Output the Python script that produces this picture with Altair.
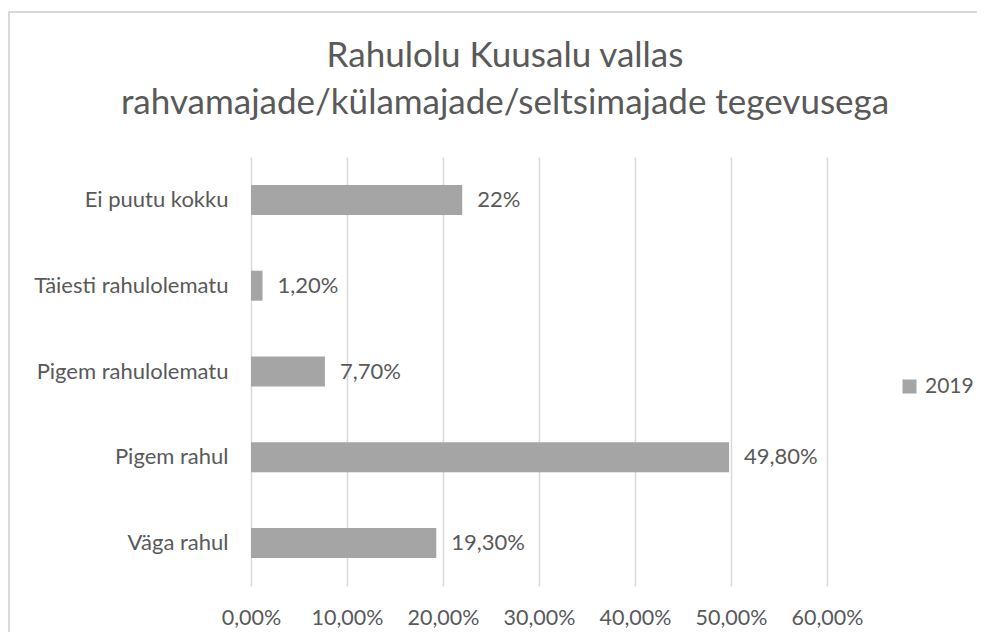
import altair as alt
import pandas as pd

categories = ["Ei puutu kokku", "Täiesti rahulolematu", "Pigem rahulolematu", "Pigem rahul", "Väga rahul"]
values = [0.22, 0.012, 0.077, 0.498, 0.193]
value_labels = ["22%", "1,20%", "7,70%", "49,80%", "19,30%"]
series = ["2019"] * 5
x_ticks = [0, 0.1, 0.2, 0.3, 0.4, 0.5, 0.6]
title_lines = ["Rahulolu Kuusalu vallas", "rahvamajade/külamajade/seltsimajade tegevusega"]

df = pd.DataFrame({"cat": categories, "val": values, "lab": value_labels, "series": series})

FONT = "Lato"
TXT = "#595959"
GRID = "#d9d9d9"

base = alt.Chart(df)
one = pd.DataFrame({"a": [0]})

border = alt.Chart(one).mark_rect(
    filled=False, stroke="#d9d9d9", strokeWidth=2
).encode(
    x=alt.value(-242), x2=alt.value(760), y=alt.value(-145), y2=alt.value(520)
)

title = alt.Chart(one).mark_text(
    font=FONT, fontSize=35, color=TXT, align="center", baseline="alphabetic", lineHeight=47
).encode(
    x=alt.value(254), y=alt.value(-90), text=alt.value(title_lines)
)

bars = base.mark_bar(size=30).encode(
    y=alt.Y("cat:N", sort=categories, title=None,
            axis=alt.Axis(labelFont=FONT, labelFontSize=22, labelColor=TXT, ticks=False,
                          domain=False, labelPadding=23, grid=False, labelLimit=400)),
    x=alt.X("val:Q", title=None, scale=alt.Scale(domain=[0, 0.6]),
            axis=alt.Axis(values=x_ticks, labelExpr="replace(format(datum.value, '.2%'), '.', ',')",
                          labelFont=FONT, labelFontSize=21.5, labelColor=TXT, ticks=False,
                          labelOverlap=False, labelFlush=False,
                          domain=False, grid=True, gridColor=GRID, gridWidth=1.5, labelPadding=21)),
    color=alt.Color("series:N", scale=alt.Scale(range=["#a5a5a5"]),
                    legend=alt.Legend(title=None, orient="none", legendX=648, legendY=219,
                                      symbolType="square", symbolSize=196, symbolStrokeWidth=0,
                                      labelOffset=5, labelLimit=200,
                                      labelFont=FONT, labelFontSize=21, labelColor=TXT)),
)

labels = base.mark_text(align="left", dx=15, font=FONT, fontSize=22, color=TXT).encode(
    y=alt.Y("cat:N", sort=categories),
    x="val:Q",
    text="lab:N",
)

chart = alt.layer(border, title, bars, labels).properties(
    width=576, height=429,
    padding={"left": 243, "top": 149, "right": 150, "bottom": 46},
    autosize=alt.AutoSizeParams(type="none"),
).configure_view(stroke=None)

chart.save("out.html", embed_options={"renderer": "svg", "actions": False})
